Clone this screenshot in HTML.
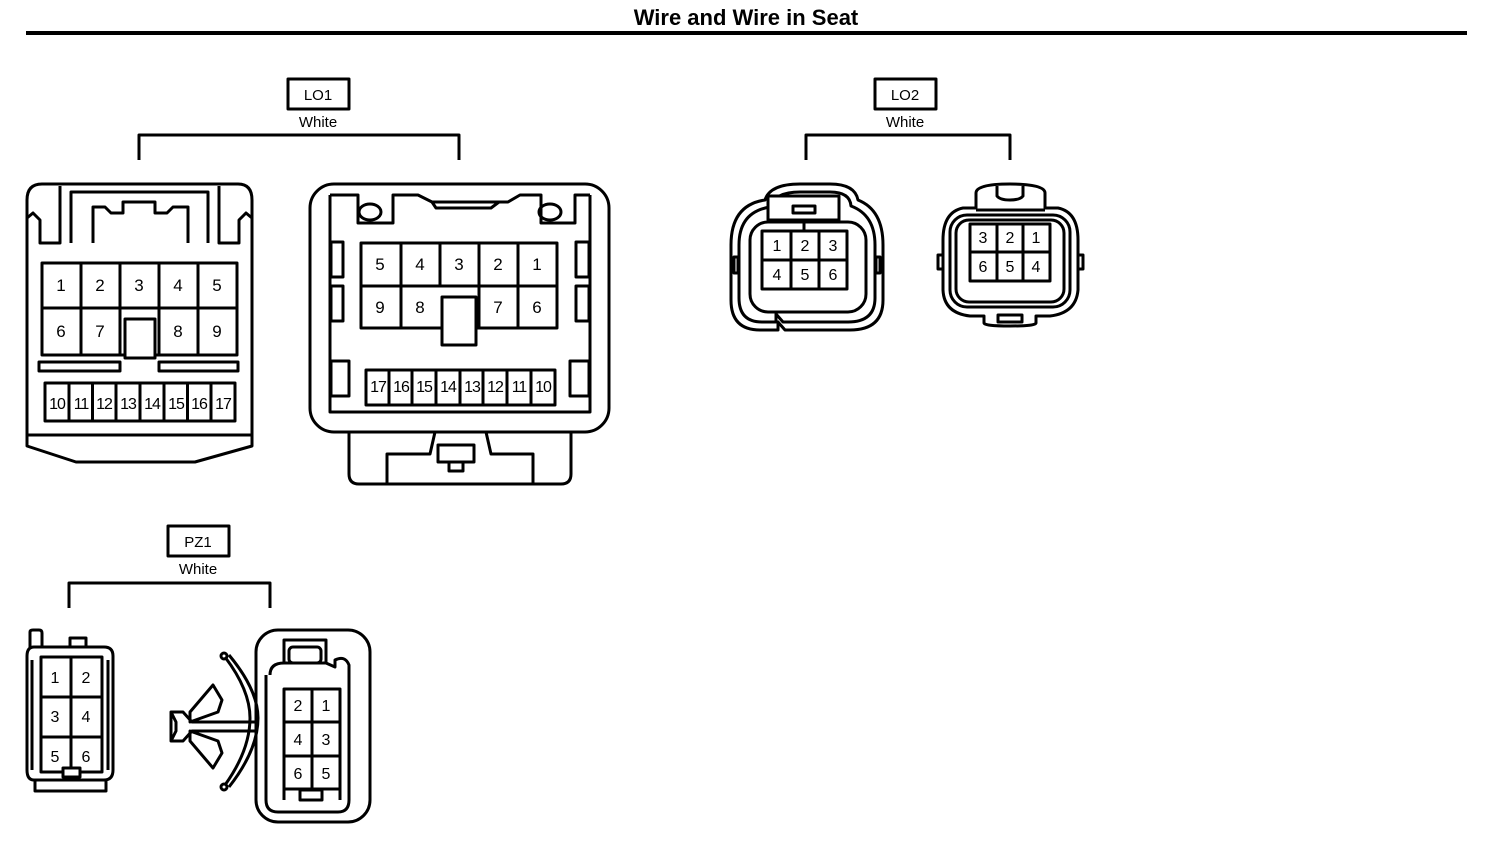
<!DOCTYPE html>
<html><head><meta charset="utf-8"><style>
html,body{margin:0;padding:0;background:#fff;}
svg{display:block;}
text{font-family:"Liberation Sans",Arial,sans-serif;fill:#000;}
</style></head><body>
<svg width="1504" height="842" viewBox="0 0 1504 842" xmlns="http://www.w3.org/2000/svg">
<g fill="none" stroke="#000" stroke-width="3" stroke-linejoin="round">
<line x1="26" y1="33" x2="1467" y2="33" stroke-width="4"/>
<rect x="288" y="79" width="61" height="30"/>
<path d="M139,160 V135 H459 V160"/>
<rect x="875" y="79" width="61" height="30"/>
<path d="M806,160 V135 H1010 V160"/>
<rect x="168" y="526" width="61" height="30"/>
<path d="M69,608 V583 H270 V608"/>

<!-- LO1 left -->
<path d="M27,200 Q27,184 42,184 H238 Q252,184 252,200 V446 L195,462 H76 L27,446 Z"/>
<line x1="27" y1="435" x2="252" y2="435"/>
<path d="M27,218 L33,213 L40,220 V243 H60 V186"/>
<path d="M252,218 L246,213 L239,220 V243 H219 V186"/>
<path d="M71,243 V192 H208 V243"/>
<path d="M93,243 V207 H105 L111,213 H123 V202 H155 V213 H167 L173,207 H188 V243"/>
<rect x="42" y="263" width="195" height="92"/>
<line x1="42" y1="308" x2="237" y2="308"/>
<line x1="81" y1="263" x2="81" y2="355"/>
<line x1="120" y1="263" x2="120" y2="355"/>
<line x1="159" y1="263" x2="159" y2="355"/>
<line x1="198" y1="263" x2="198" y2="355"/>
<rect x="125" y="319" width="30" height="39" fill="#fff"/>
<rect x="39" y="362" width="81" height="9"/>
<rect x="159" y="362" width="79" height="9"/>
<rect x="45" y="383" width="190" height="38"/>
<line x1="69" y1="383" x2="69" y2="421"/>
<line x1="92.5" y1="383" x2="92.5" y2="421"/>
<line x1="116" y1="383" x2="116" y2="421"/>
<line x1="140" y1="383" x2="140" y2="421"/>
<line x1="164" y1="383" x2="164" y2="421"/>
<line x1="187.5" y1="383" x2="187.5" y2="421"/>
<line x1="211" y1="383" x2="211" y2="421"/>

<!-- LO1 right -->
<rect x="310" y="184" width="299" height="248" rx="24"/>
<path d="M330,195 V412 H590 V195"/>
<path d="M330,195 H358 V223 H393 V195 H418 L432,202 H508 L520,195 H541 V223 H575 V195 H590"/>
<path d="M432,202 L436,208 H491 L499,202"/>
<ellipse cx="370" cy="212" rx="11" ry="8"/>
<ellipse cx="550" cy="212" rx="11" ry="8"/>
<rect x="331" y="242" width="12" height="35"/>
<rect x="331" y="286" width="12" height="35"/>
<rect x="576" y="242" width="13" height="35"/>
<rect x="576" y="286" width="13" height="35"/>
<rect x="331" y="361" width="18" height="35"/>
<rect x="570" y="361" width="19" height="35"/>
<rect x="361" y="243" width="196" height="85"/>
<line x1="361" y1="286" x2="557" y2="286"/>
<line x1="401" y1="243" x2="401" y2="328"/>
<line x1="440" y1="243" x2="440" y2="286"/>
<line x1="479" y1="243" x2="479" y2="328"/>
<line x1="518" y1="243" x2="518" y2="328"/>
<rect x="442" y="297" width="34" height="48" fill="#fff"/>
<rect x="366" y="370" width="189" height="35"/>
<line x1="389" y1="370" x2="389" y2="405"/>
<line x1="412" y1="370" x2="412" y2="405"/>
<line x1="436" y1="370" x2="436" y2="405"/>
<line x1="460" y1="370" x2="460" y2="405"/>
<line x1="483" y1="370" x2="483" y2="405"/>
<line x1="507" y1="370" x2="507" y2="405"/>
<line x1="531" y1="370" x2="531" y2="405"/>
<path d="M349,432 V474 Q349,484 359,484 H561 Q571,484 571,474 V432"/>
<path d="M387,484 V454 H430 L435,432 M533,484 V454 H491 L486,432"/>
<rect x="438" y="445" width="36" height="17"/>
<rect x="449" y="462" width="14" height="9"/>

<!-- LO2 left -->
<path d="M765,200 Q770,184 800,184 H830 Q855,184 858,200 Q883,210 883,245 V300 Q883,330 850,330 H785 L778,322 V330 H760 Q731,330 731,300 V245 Q731,205 765,200 Z"/>
<path d="M770,207 Q775,192 800,192 H830 Q850,192 851,206 Q875,215 875,245 V298 Q875,322 848,322 H783 L776,314 V322 H762 Q739,322 739,298 V245 Q739,212 770,207 Z"/>
<rect x="750" y="222" width="116" height="90" rx="18"/>
<rect x="768" y="196" width="71" height="24" fill="#fff"/>
<rect x="793" y="206" width="22" height="7"/>
<line x1="804" y1="220" x2="804" y2="231"/>
<rect x="762" y="231" width="85" height="58" fill="#fff"/>
<line x1="762" y1="260" x2="847" y2="260"/>
<line x1="791" y1="231" x2="791" y2="289"/>
<line x1="819" y1="231" x2="819" y2="289"/>
<rect x="734" y="257" width="4" height="16"/>
<rect x="876" y="257" width="4" height="16"/>

<!-- LO2 right -->
<path d="M976,193 Q976,184 1010,184 Q1045,184 1045,193 V208 H1058 Q1078,212 1078,240 V290 Q1076,313 1050,316 H1036 V323 Q1036,326 1010,326 Q984,326 984,323 V316 H970 Q944,313 943,290 V240 Q943,212 963,208 H976 Z"/>
<path d="M997,186 V196 Q1000,200 1010,200 Q1020,200 1023,196 V186"/>
<path d="M976,210 H1045"/>
<rect x="950" y="215" width="120" height="92" rx="17"/>
<rect x="956" y="220" width="108" height="82" rx="13"/>
<rect x="970" y="224" width="80" height="57"/>
<line x1="970" y1="252" x2="1050" y2="252"/>
<line x1="997" y1="224" x2="997" y2="281"/>
<line x1="1023" y1="224" x2="1023" y2="281"/>
<rect x="938" y="255" width="5" height="14"/>
<rect x="1078" y="255" width="5" height="14"/>
<rect x="998" y="315" width="24" height="7"/>

<!-- PZ1 left -->
<path d="M30,648 V632 Q30,630 33,630 H39 Q42,630 42,633 V647"/>
<path d="M70,647 V638 H86 V647"/>
<path d="M34,647 H104 Q113,647 113,656 V770 Q113,780 104,780 H34 Q27,780 27,770 V656 Q27,647 34,647 Z"/>
<path d="M35,780 V791 H106 V780"/>
<path d="M32,660 V770 M108,660 V770"/>
<rect x="41" y="657" width="61" height="115"/>
<line x1="41" y1="697" x2="102" y2="697"/>
<line x1="41" y1="737" x2="102" y2="737"/>
<line x1="71" y1="657" x2="71" y2="772"/>
<rect x="63" y="768" width="17" height="9" fill="#fff"/>

<!-- PZ1 right -->
<rect x="256" y="630" width="114" height="192" rx="22"/>
<path d="M284,663 V640 H326 V663"/>
<rect x="289" y="647" width="32" height="16" rx="4"/>
<path d="M270,675 Q270,663 284,663 H326 L335,667 V660 Q345,655 349,665 V800 Q349,812 338,812 H278 Q266,812 266,800 V675"/>
<rect x="284" y="689" width="56" height="100"/>
<line x1="284" y1="722" x2="340" y2="722"/>
<line x1="284" y1="756" x2="340" y2="756"/>
<line x1="312" y1="689" x2="312" y2="796"/>
<line x1="284" y1="789" x2="284" y2="800"/><line x1="340" y1="789" x2="340" y2="800"/>
<rect x="300" y="790" width="22" height="10" fill="#fff"/>
<path d="M225,657 Q250,690 250,718 Q250,750 225,785"/>
<path d="M229,655 Q258,690 258,718 Q258,750 229,787"/>
<circle cx="224" cy="656" r="3"/>
<circle cx="224" cy="787" r="3"/>
<path d="M171,712 H183 L192,722 H256 V731 H192 L183,741 H171 Z"/>
<path d="M171,712 L176,722 V731 L171,741"/>
<path d="M190,722 L190,712 L213,685 L222,700 L218,712 Z"/>
<path d="M190,731 L190,741 L213,768 L222,753 L218,741 Z"/>
</g>
<text x="746" y="25" font-size="22" font-weight="bold" text-anchor="middle">Wire and Wire in Seat</text>
<g font-size="15" text-anchor="middle">
<text x="318" y="100">LO1</text><text x="318" y="127">White</text>
<text x="905" y="100">LO2</text><text x="905" y="127">White</text>
<text x="198" y="547">PZ1</text><text x="198" y="574">White</text>
</g>
<g font-size="17" text-anchor="middle">
<text x="61" y="291">1</text><text x="100" y="291">2</text><text x="139" y="291">3</text><text x="178" y="291">4</text><text x="217" y="291">5</text>
<text x="61" y="337">6</text><text x="100" y="337">7</text><text x="178" y="337">8</text><text x="217" y="337">9</text>
<text x="380" y="270">5</text><text x="420" y="270">4</text><text x="459" y="270">3</text><text x="498" y="270">2</text><text x="537" y="270">1</text>
<text x="380" y="313">9</text><text x="420" y="313">8</text><text x="498" y="313">7</text><text x="537" y="313">6</text>
</g>
<g font-size="16" text-anchor="middle" letter-spacing="-1">
<text x="57" y="409">10</text><text x="81" y="409">11</text><text x="104" y="409">12</text><text x="128" y="409">13</text><text x="152" y="409">14</text><text x="176" y="409">15</text><text x="199" y="409">16</text><text x="223" y="409">17</text>
<text x="378" y="392">17</text><text x="401" y="392">16</text><text x="424" y="392">15</text><text x="448" y="392">14</text><text x="472" y="392">13</text><text x="495" y="392">12</text><text x="519" y="392">11</text><text x="543" y="392">10</text>
</g>
<g font-size="16" text-anchor="middle">
<text x="777" y="251">1</text><text x="805" y="251">2</text><text x="833" y="251">3</text>
<text x="777" y="280">4</text><text x="805" y="280">5</text><text x="833" y="280">6</text>
<text x="983" y="243">3</text><text x="1010" y="243">2</text><text x="1036" y="243">1</text>
<text x="983" y="272">6</text><text x="1010" y="272">5</text><text x="1036" y="272">4</text>
<text x="55" y="683">1</text><text x="86" y="683">2</text>
<text x="55" y="722">3</text><text x="86" y="722">4</text>
<text x="55" y="762">5</text><text x="86" y="762">6</text>
<text x="298" y="711">2</text><text x="326" y="711">1</text>
<text x="298" y="745">4</text><text x="326" y="745">3</text>
<text x="298" y="779">6</text><text x="326" y="779">5</text>
</g>
</svg>
</body></html>
